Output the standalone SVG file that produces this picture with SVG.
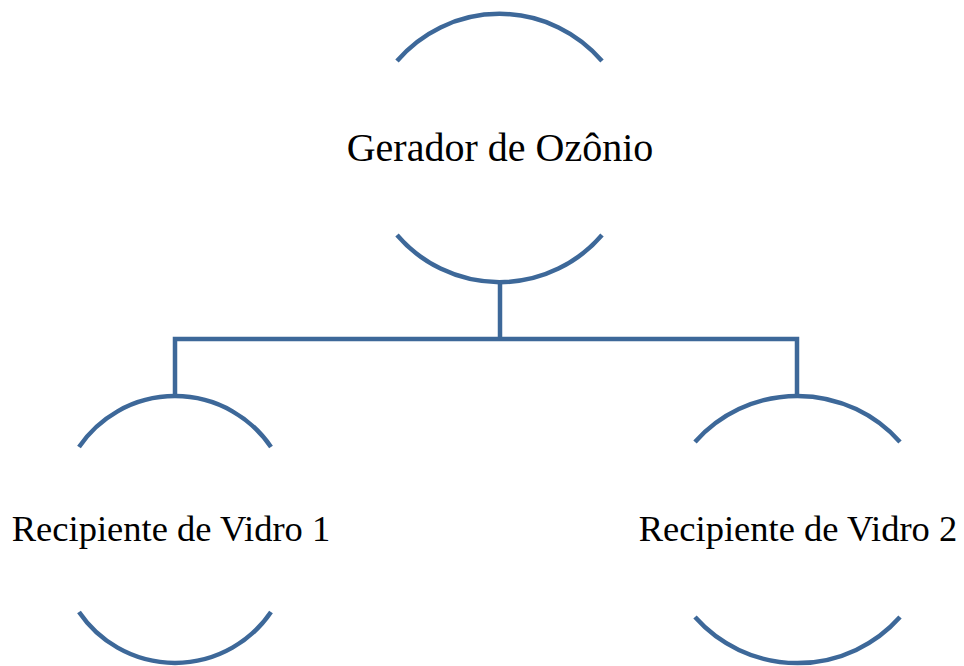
<svg xmlns="http://www.w3.org/2000/svg" width="964" height="666" viewBox="0 0 964 666">
<style>
.arc{fill:none;stroke:#3d6899;stroke-width:4.5}
.conn{fill:none;stroke:#3d6899;stroke-width:4.5;stroke-linejoin:miter}
.lbl{font-family:"Liberation Serif","Times New Roman",serif;fill:#000;text-anchor:middle}
</style>
<rect width="964" height="666" fill="#fff"/>
<g id="connectors">
<path class="conn" d="M500 282 V338"/>
<path class="conn" d="M175 396 V339 H797 V396"/>
</g>
<g id="node-gerador">
<path class="arc" d="M397 61 A135 135 0 0 1 602 61"/>
<path class="arc" d="M397 235 A135 135 0 0 0 602 235"/>
<text class="lbl" x="500" y="161" font-size="40">Gerador de Ozônio</text>
</g>
<g id="node-vidro1">
<path class="arc" d="M79 447 A116 116 0 0 1 271 447"/>
<path class="arc" d="M79 612 A116 116 0 0 0 271 612"/>
<text class="lbl" x="171" y="541" font-size="36.5">Recipiente de Vidro 1</text>
</g>
<g id="node-vidro2">
<path class="arc" d="M695 442 A137 137 0 0 1 900 442"/>
<path class="arc" d="M695 617 A137 137 0 0 0 900 617"/>
<text class="lbl" x="798" y="541" font-size="36.5">Recipiente de Vidro 2</text>
</g>
</svg>
